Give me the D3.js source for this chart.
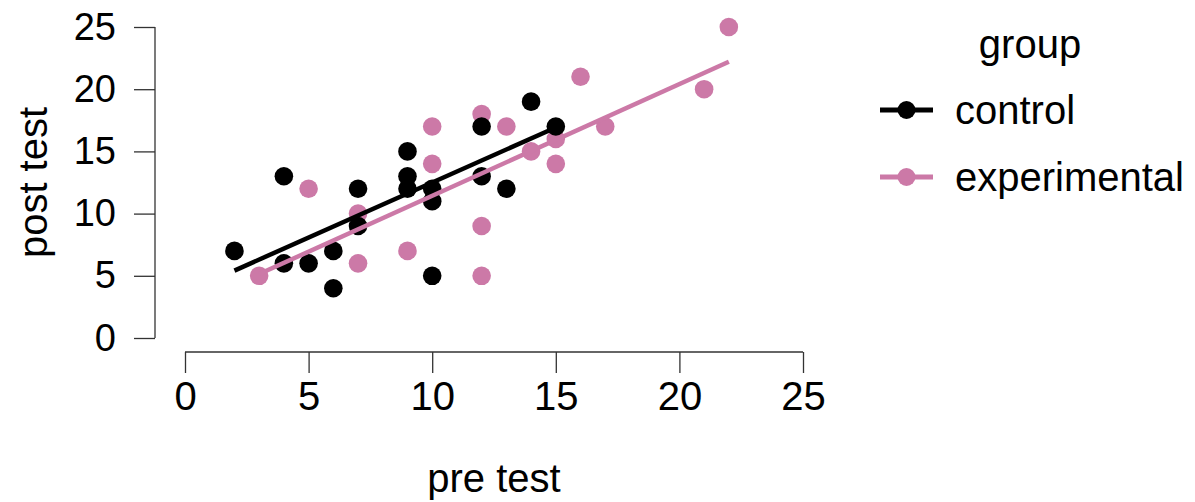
<!DOCTYPE html>
<html>
<head>
<meta charset="utf-8">
<script src="https://cdn.jsdelivr.net/npm/d3@7"></script>
<style>
  body { margin: 0; background: #fff; }
  text { font-family: "Liberation Sans", Arial, sans-serif; fill: #000; }
</style>
</head>
<body>
<div id="chart"></div>
<script>

// data
var groups = ['control', 'experimental'];
var groupColors = ['#000000', '#CC79A7'];

var controlPre  = [2, 4, 4, 5, 6, 6, 7, 7, 9, 9, 9, 10, 10, 10, 12, 12, 13, 14, 15];
var controlPost = [7, 13, 6, 6, 7, 4, 12, 9, 15, 13, 12, 12, 11, 5, 17, 13, 12, 19, 17];

var experimentalPre  = [3, 5, 7, 7, 9, 10, 10, 12, 12, 12, 13, 14, 15, 15, 16, 17, 21, 22];
var experimentalPost = [5, 12, 10, 6, 7, 17, 14, 18, 9, 5, 17, 15, 16, 14, 21, 17, 20, 25];

// fitted lines (post = intercept + slope * pre)
var fitIntercepts = [3.65, 2.45];
var fitSlopes     = [0.885, 0.898];

var xTicks = [0, 5, 10, 15, 20, 25];
var yTicks = [0, 5, 10, 15, 20, 25];


function getChart(params) {
    // exposed variables
    var attrs = {
        svgWidth: 1195,
        svgHeight: 502,
        plotLeft: 185,
        plotRight: 803,
        plotTop: 27,
        plotBottom: 338,
        xAxisY: 352,
        yAxisX: 155,
        pointRadius: 9.3,
        data: null
    };

    Object.keys(attrs).forEach(function (key) {
        if (params && params[key]) attrs[key] = params[key];
    });

    var main = function (selection) {
        selection.each(function () {

            var svg = d3.select(this)
                .append('svg')
                .attr('width', attrs.svgWidth)
                .attr('height', attrs.svgHeight);

            // scales
            var x = d3.scaleLinear()
                .domain([0, 25])
                .range([attrs.plotLeft, attrs.plotRight]);

            var y = d3.scaleLinear()
                .domain([0, 25])
                .range([attrs.plotBottom, attrs.plotTop]);

            var color = d3.scaleOrdinal().domain(groups).range(groupColors);

            /* ##############  AXES ################# */

            var xAxis = svg.append('g')
                .attr('transform', 'translate(0,' + attrs.xAxisY + ')')
                .call(d3.axisBottom(x).tickValues(xTicks).tickSize(21).tickPadding(9).tickSizeOuter(0));

            xAxis.select('.domain').attr('stroke', '#333').attr('stroke-width', 1.3)
                .attr('d', 'M' + x(0) + ',0H' + x(25));
            xAxis.selectAll('.tick line').attr('stroke', '#333').attr('stroke-width', 1.3);
            xAxis.selectAll('.tick text')
                .attr('font-size', 40)
                .attr('font-family', '"Liberation Sans", Arial, sans-serif')
                .attr('fill', '#000');

            var yAxis = svg.append('g')
                .attr('transform', 'translate(' + attrs.yAxisX + ',0)')
                .call(d3.axisLeft(y).tickValues(yTicks).tickSize(21).tickPadding(18).tickSizeOuter(0));

            yAxis.select('.domain').attr('stroke', '#333').attr('stroke-width', 1.3)
                .attr('d', 'M0,' + y(0) + 'V' + y(25));
            yAxis.selectAll('.tick line').attr('stroke', '#333').attr('stroke-width', 1.3);
            yAxis.selectAll('.tick text')
                .attr('font-size', 38)
                .attr('font-family', '"Liberation Sans", Arial, sans-serif')
                .attr('fill', '#000');

            // axis titles
            svg.append('text')
                .attr('x', (x(0) + x(25)) / 2)
                .attr('y', 492)
                .attr('text-anchor', 'middle')
                .attr('font-size', 40)
                .text('pre test');

            svg.append('text')
                .attr('transform', 'translate(47,' + ((y(0) + y(25)) / 2) + ') rotate(-90)')
                .attr('text-anchor', 'middle')
                .attr('font-size', 40)
                .text('post test');

            /* ##############  POINTS ################# */

            // experimental underneath, control on top
            attrs.data.slice().reverse().forEach(function (g) {
                svg.append('g')
                    .selectAll('circle')
                    .data(g.points)
                    .enter()
                    .append('circle')
                    .attr('cx', d => x(d.pre))
                    .attr('cy', d => y(d.post))
                    .attr('r', attrs.pointRadius)
                    .attr('fill', color(g.group));
            });

            /* ##############  FIT LINES ################# */

            function fitLine(g) {
                var ext = d3.extent(g.points, p => p.pre);
                return ext.map(v => ({ pre: v, post: g.intercept + g.slope * v }));
            }

            var line = d3.line().x(d => x(d.pre)).y(d => y(d.post));

            svg.selectAll('path.fit')
                .data(attrs.data)
                .enter()
                .append('path')
                .attr('class', 'fit')
                .attr('fill', 'none')
                .attr('stroke', d => color(d.group))
                .attr('stroke-width', 4.5)
                .attr('d', d => line(fitLine(d)));

            /* ##############  LEGEND ################# */

            var legend = svg.append('g');

            legend.append('text')
                .attr('x', 1030)
                .attr('y', 58)
                .attr('text-anchor', 'middle')
                .attr('font-size', 40)
                .text('group');

            var item = legend.selectAll('g.item')
                .data(groups)
                .enter()
                .append('g')
                .attr('class', 'item')
                .attr('transform', (d, i) => 'translate(0,' + (110 + i * 67) + ')');

            item.append('line')
                .attr('x1', 880).attr('x2', 933)
                .attr('stroke', d => color(d))
                .attr('stroke-width', 5);

            item.append('circle')
                .attr('cx', 906.5)
                .attr('r', 9)
                .attr('fill', d => color(d));

            item.append('text')
                .attr('x', 955)
                .attr('y', 14)
                .attr('font-size', 40)
                .text(d => d);
        });
    };

    main.data = function (value) {
        if (!arguments.length) return attrs.data;
        attrs.data = value;
        return main;
    };

    return main;
}


var data = [
    {
        group: 'control', intercept: fitIntercepts[0], slope: fitSlopes[0],
        points: controlPre.map((v, i) => ({ pre: v, post: controlPost[i] }))
    },
    {
        group: 'experimental', intercept: fitIntercepts[1], slope: fitSlopes[1],
        points: experimentalPre.map((v, i) => ({ pre: v, post: experimentalPost[i] }))
    }
];

var chart = getChart({}).data(data);
d3.select('#chart').call(chart);

</script>
</body>
</html>
